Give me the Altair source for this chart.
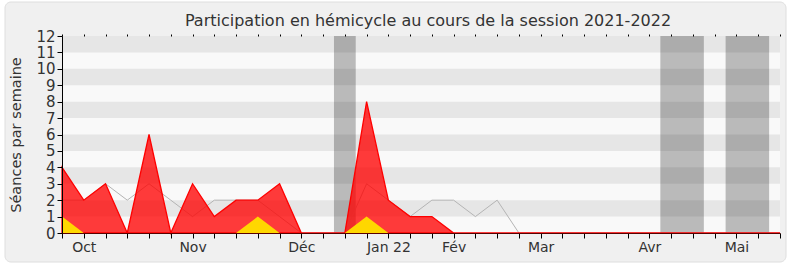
import altair as alt
import pandas as pd

# ---- data ----
weeks = [0, 1, 2, 3, 4, 5, 6, 7, 8, 9, 10, 11, 12, 13, 14, 15, 16,
         17, 18, 19, 20, 21, 22, 23, 24, 25, 26, 27, 28, 29, 30, 31, 32, 33]
presences = [4, 2, 3, 0, 6, 0, 3, 1, 2, 2, 3, 0, 0, 0, 8, 2, 1,
             1, 0, 0, 0, 0, 0, 0, 0, 0, 0, 0, 0, 0, 0, 0, 0, 0]
mediane = [2, 2, 3, 2, 3, 2, 1, 2, 2, 2, 1, 0, 0, 0, 3, 2, 1,
           2, 2, 1, 2, 0, 0, 0, 0, 0, 0, 0, 0, 0, 0, 0, 0, 0]
interventions = [1, 0, 0, 0, 0, 0, 0, 0, 0, 1, 0, 0, 0, 0, 1, 0, 0,
                 0, 0, 0, 0, 0, 0, 0, 0, 0, 0, 0, 0, 0, 0, 0, 0, 0]

month_pos = [1, 6, 11, 15, 18, 22, 27, 31]
month_labels = ["Oct", "Nov", "Déc", "Jan 22", "Fév", "Mar", "Avr", "Mai"]

vac_start = [12.5, 27.5, 30.5]
vac_end = [13.5, 29.5, 32.5]

stripe_lo = [1, 3, 5, 7, 9, 11]
stripe_hi = [2, 4, 6, 8, 10, 12]
y_ticks = [0, 1, 2, 3, 4, 5, 6, 7, 8, 9, 10, 11, 12]

title_text = "Participation en hémicycle au cours de la session 2021-2022"
y_title = "Séances par semaine"

# ---- tables ----
df = pd.DataFrame({"w": weeks, "pres": presences, "med": mediane, "inter": interventions})
df_vac = pd.DataFrame({"s": vac_start, "e": vac_end})
df_str = pd.DataFrame({"lo": stripe_lo, "hi": stripe_hi})
df_one = pd.DataFrame({"k": [0]})

label_expr = ""
for p, l in zip(month_pos, month_labels):
    label_expr += f"datum.value == {p} ? '{l}' : "
label_expr += "''"

FONT = "DejaVu Sans"
W, H = 718, 197

xscale = alt.Scale(domain=[0, 33], nice=False, zero=False)
yscale = alt.Scale(domain=[0, 12], nice=False)

x_axis = alt.Axis(values=weeks, labelExpr=label_expr, title=None, grid=False,
                  tickSize=5, tickColor="#000", domainColor="#5a0000", labelOverlap=False,
                  labelFontSize=14, labelColor="#333", labelFont=FONT, labelPadding=2,
                  labelFlush=False, zindex=1)

y_axis = alt.Axis(values=y_ticks, title=y_title, grid=False, tickSize=5,
                  tickColor="#000", domainColor="#000", labelOverlap=False,
                  labelFontSize=15, labelColor="#333", labelFont=FONT,
                  titleFontSize=14.5, titleColor="#333", titleFont=FONT,
                  titleFontWeight="normal", titlePadding=12, labelPadding=2,
                  labelFlush=False, zindex=1)

# decorative frame and plot background
frame = alt.Chart(df_one).mark_rect(fill="#f0f0f0", stroke="#dedede", strokeWidth=1,
                                    cornerRadius=6).encode(
    x=alt.value(-57), x2=alt.value(W + 6), y=alt.value(-34), y2=alt.value(H + 29),
)
plot_bg = alt.Chart(df_one).mark_rect(fill="#f9f9f9").encode(
    x=alt.value(0), x2=alt.value(W), y=alt.value(0), y2=alt.value(H),
)

stripes = alt.Chart(df_str).mark_rect(color="#e6e6e6").encode(
    x=alt.value(0), x2=alt.value(W),
    y=alt.Y("lo:Q", scale=yscale, axis=y_axis),
    y2="hi:Q",
)

vac = alt.Chart(df_vac).mark_rect(color="#000", opacity=0.25).encode(
    x=alt.X("s:Q", scale=xscale, axis=x_axis),
    x2="e:Q",
    y=alt.value(0), y2=alt.value(H),
)

top_ticks = alt.Chart(df).mark_rule(opacity=0).encode(
    x=alt.X("w:Q", scale=xscale,
            axis=alt.Axis(orient="top", values=weeks, labels=False, title=None,
                          domain=False, grid=False, tickSize=2, tickColor="#000",
                          zindex=1)),
    y=alt.value(0), y2=alt.value(1),
)

med_line = alt.Chart(df).mark_line(color="#b4b4b4", strokeWidth=1).encode(
    x=alt.X("w:Q", scale=xscale, axis=None),
    y=alt.Y("med:Q", scale=yscale, axis=None),
)

pres_area = alt.Chart(df).mark_area(fill="#ff0000", fillOpacity=0.77, stroke="#ff0000",
                                    strokeWidth=1.3).encode(
    x=alt.X("w:Q", scale=xscale, axis=None),
    y=alt.Y("pres:Q", scale=yscale, axis=None),
)

inter_area = alt.Chart(df).mark_area(fill="#ffd700", fillOpacity=1).encode(
    x=alt.X("w:Q", scale=xscale, axis=None),
    y=alt.Y("inter:Q", scale=yscale, axis=None),
)

chart = alt.layer(frame, plot_bg, stripes, vac, top_ticks, med_line, pres_area,
                  inter_area).resolve_axis(
    x="independent", y="independent"
).properties(
    width=W, height=H,
    title=alt.TitleParams(title_text, fontSize=16, font=FONT, color="#333",
                          fontWeight="normal", anchor="middle", dx=7, dy=31),
    autosize=alt.AutoSizeParams(type="none"),
    padding={"left": 62, "top": 36, "right": 10, "bottom": 34},
    background="#ffffff",
).configure_view(stroke=None, fill=None)

chart.save("out.html", embed_options={"renderer": "svg", "actions": False})
